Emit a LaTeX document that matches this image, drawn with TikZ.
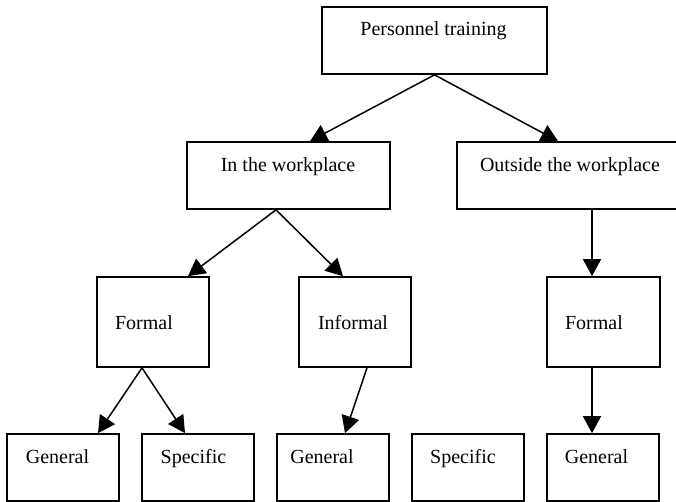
\documentclass[tikz,border=0pt]{standalone}
\usepackage{fontspec}
\setmainfont{Liberation Serif}
\usetikzlibrary{arrows.meta,calc}
\begin{document}
\begin{tikzpicture}[x=1pt,y=-1pt,
  box/.style={draw, line width=1.7pt, rectangle, inner sep=0pt},
  wide/.style={box, minimum height=67pt},
  tall/.style={box, minimum width=112pt, minimum height=90pt},
  leaf/.style={box, minimum width=112pt, minimum height=67pt},
  lbl/.style={anchor=base, font=\fontsize{20}{24}\selectfont, inner sep=0pt},
  conn/.style={line width=1.5pt, -{Triangle[length=17pt,width=18pt]}}]
\useasboundingbox (0,0) rectangle (676,502);
\clip (0,0) rectangle (676,502);
% boxes
\node[wide, minimum width=225pt] (p) at (434.5,40.5) {};
\node[wide, minimum width=203pt] (w) at (288.5,175.5) {};
\node[wide, minimum width=238pt] (o) at (576,175.5) {};
\node[tall] (f1) at (153,322) {};
\node[tall] (inf) at (355,322) {};
\node[tall, minimum width=113pt] (f2) at (603.5,322) {};
\node[leaf] (g1) at (63,467.5) {};
\node[leaf] (s1) at (198,467.5) {};
\node[leaf] (g2) at (333,467.5) {};
\node[leaf] (s2) at (468,467.5) {};
\node[leaf] (g3) at (603,467.5) {};
% labels
\node[lbl] (tp) at (433.5,36) {Personnel training};
\node[lbl] (tw) at (288,172) {In the workplace};
\node[lbl] (to) at (570,172) {Outside the workplace};
\node[lbl] (tf1) at (144,329) {Formal};
\node[lbl] (tinf) at (353,329) {Informal};
\node[lbl] (tf2) at (594,329) {Formal};
\node[lbl] (tg1) at (57.5,463) {General};
\node[lbl] (ts1) at (193.5,463) {Specific};
\node[lbl] (tg2) at (322,463) {General};
\node[lbl] (ts2) at (463,463) {Specific};
\node[lbl] (tg3) at (596.5,463) {General};
% connectors
\draw[conn] (p.south) -- ([xshift=21.5pt]w.north);
\draw[conn] (p.south) -- ([xshift=-18pt]o.north);
\draw[conn] ([xshift=-12.5pt]w.south) -- ([xshift=35pt]f1.north);
\draw[conn] ([xshift=-12.5pt]w.south) -- ([xshift=-12pt]inf.north);
\draw[conn] ([xshift=16pt]o.south) -- ([xshift=-11.5pt]f2.north);
\draw[conn] ([xshift=-11pt]f1.south) -- ([xshift=35pt]g1.north);
\draw[conn] ([xshift=-11pt]f1.south) -- ([xshift=-13pt]s1.north);
\draw[conn] ([xshift=12pt]inf.south) -- ([xshift=12pt]g2.north);
\draw[conn] ([xshift=-11.5pt]f2.south) -- ([xshift=-11pt]g3.north);
\end{tikzpicture}
\end{document}
